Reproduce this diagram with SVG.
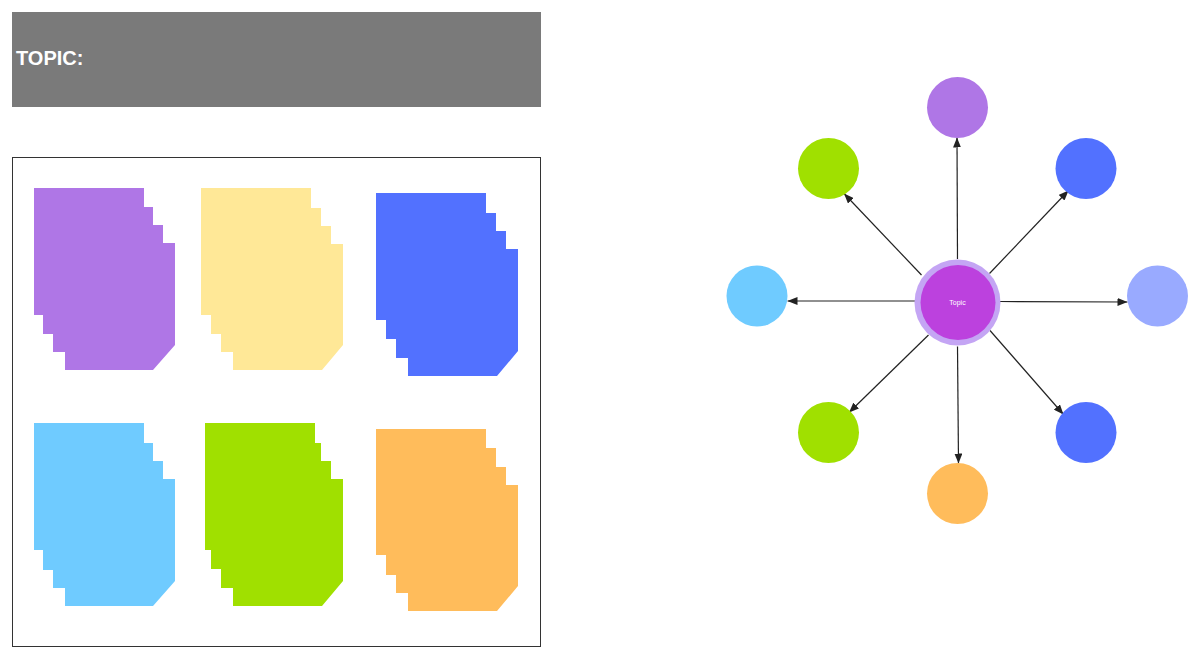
<svg xmlns="http://www.w3.org/2000/svg" width="1200" height="658" viewBox="0 0 1200 658">
  <style>
    .note { stroke: none; }
    .leaf { stroke: none; }
    .edge { stroke: #222; stroke-width: 1.2; fill: none; marker-end: url(#arrow); }
    .title { font-family: "Liberation Sans", Arial, sans-serif; font-weight: bold; font-size: 20px; fill: #ffffff; }
    .topic { font-family: "Liberation Sans", Arial, sans-serif; font-size: 7px; fill: #ffffff; text-anchor: middle; }
  </style>
  <defs>
    <marker id="arrow" markerUnits="userSpaceOnUse" markerWidth="10" markerHeight="8" refX="10" refY="4" orient="auto">
      <path d="M0,0 L10,4 L0,8 Z" fill="#222"/>
    </marker>
  </defs>
  <rect width="1200" height="658" fill="#ffffff"/>

  <g id="header">
    <rect x="12" y="12" width="529" height="95" fill="#7a7a7a"/>
    <text class="title" x="16" y="65">TOPIC:</text>
  </g>

  <g id="frame">
    <rect x="12.5" y="157.5" width="528" height="489" fill="none" stroke="#333" stroke-width="1"/>
  </g>

  <g id="notes-purple">
    <polygon class="note" fill="#af76e6" points="34,188 144,188 144,207 153,207 153,225 163,225 163,243 175,243 175,345 153,370 65,370 65,352 53,352 53,334 43,334 43,315 34,315"/>
  </g>
  <g id="notes-yellow">
    <polygon class="note" fill="#ffe897" points="201,188 311,188 311,208 321,208 321,226 331,226 331,244 343,244 343,345 322,370 233,370 233,352 221,352 221,334 211,334 211,315 201,315"/>
  </g>
  <g id="notes-blue">
    <polygon class="note" fill="#5271ff" points="376,193 486,193 486,213 496,213 496,231 506,231 506,249 518,249 518,351 497,376 408,376 408,358 396,358 396,339 386,339 386,320 376,320"/>
  </g>
  <g id="notes-lightblue">
    <polygon class="note" fill="#6fcbff" points="34,423 144,423 144,443 153,443 153,461 163,461 163,479 175,479 175,581 153,606 65,606 65,588 53,588 53,570 43,570 43,550 34,550"/>
  </g>
  <g id="notes-green">
    <polygon class="note" fill="#a0e000" points="205,423 315,423 315,443 321,443 321,461 331,461 331,479 343,479 343,581 322,606 233,606 233,588 221,588 221,569 211,569 211,550 205,550"/>
  </g>
  <g id="notes-orange">
    <polygon class="note" fill="#ffbc5b" points="376,429 486,429 486,448 496,448 496,467 506,467 506,485 518,485 518,586 497,611 408,611 408,593 396,593 396,575 386,575 386,555 376,555"/>
  </g>

  <g id="connectors">
    <line class="edge" x1="957.5" y1="259" x2="957" y2="137.5"/>
    <line class="edge" x1="921.5" y1="275" x2="844" y2="193.5"/>
    <line class="edge" x1="989.5" y1="273.5" x2="1068.5" y2="190.5"/>
    <line class="edge" x1="915" y1="301" x2="787.5" y2="301"/>
    <line class="edge" x1="1000" y1="301.5" x2="1127.5" y2="302"/>
    <line class="edge" x1="928.5" y1="335" x2="849" y2="412.5"/>
    <line class="edge" x1="957.5" y1="346.5" x2="958.5" y2="463.5"/>
    <line class="edge" x1="990" y1="330.5" x2="1063.5" y2="414.5"/>
  </g>

  <g id="node-top">
    <circle class="leaf" cx="957.5" cy="107.5" r="30.5" fill="#af76e6"/>
  </g>
  <g id="node-upper-left">
    <circle class="leaf" cx="828.5" cy="168.5" r="30.5" fill="#a0e000"/>
  </g>
  <g id="node-upper-right">
    <circle class="leaf" cx="1086" cy="168.5" r="30.5" fill="#5271ff"/>
  </g>
  <g id="node-left">
    <circle class="leaf" cx="757" cy="296" r="30.5" fill="#6fcbff"/>
  </g>
  <g id="node-right">
    <circle class="leaf" cx="1157.5" cy="296" r="30.5" fill="#99aaff"/>
  </g>
  <g id="node-lower-left">
    <circle class="leaf" cx="828.5" cy="432.5" r="30.5" fill="#a0e000"/>
  </g>
  <g id="node-bottom">
    <circle class="leaf" cx="957.5" cy="493.5" r="30.5" fill="#ffbc5b"/>
  </g>
  <g id="node-lower-right">
    <circle class="leaf" cx="1086" cy="432.5" r="30.5" fill="#5271ff"/>
  </g>

  <g id="node-center">
    <circle cx="957.5" cy="302.5" r="43" fill="#c4a5f4"/>
    <circle cx="958" cy="302.5" r="37.5" fill="#bc41de"/>
    <text class="topic" x="957.5" y="304.5">Topic</text>
  </g>
</svg>
